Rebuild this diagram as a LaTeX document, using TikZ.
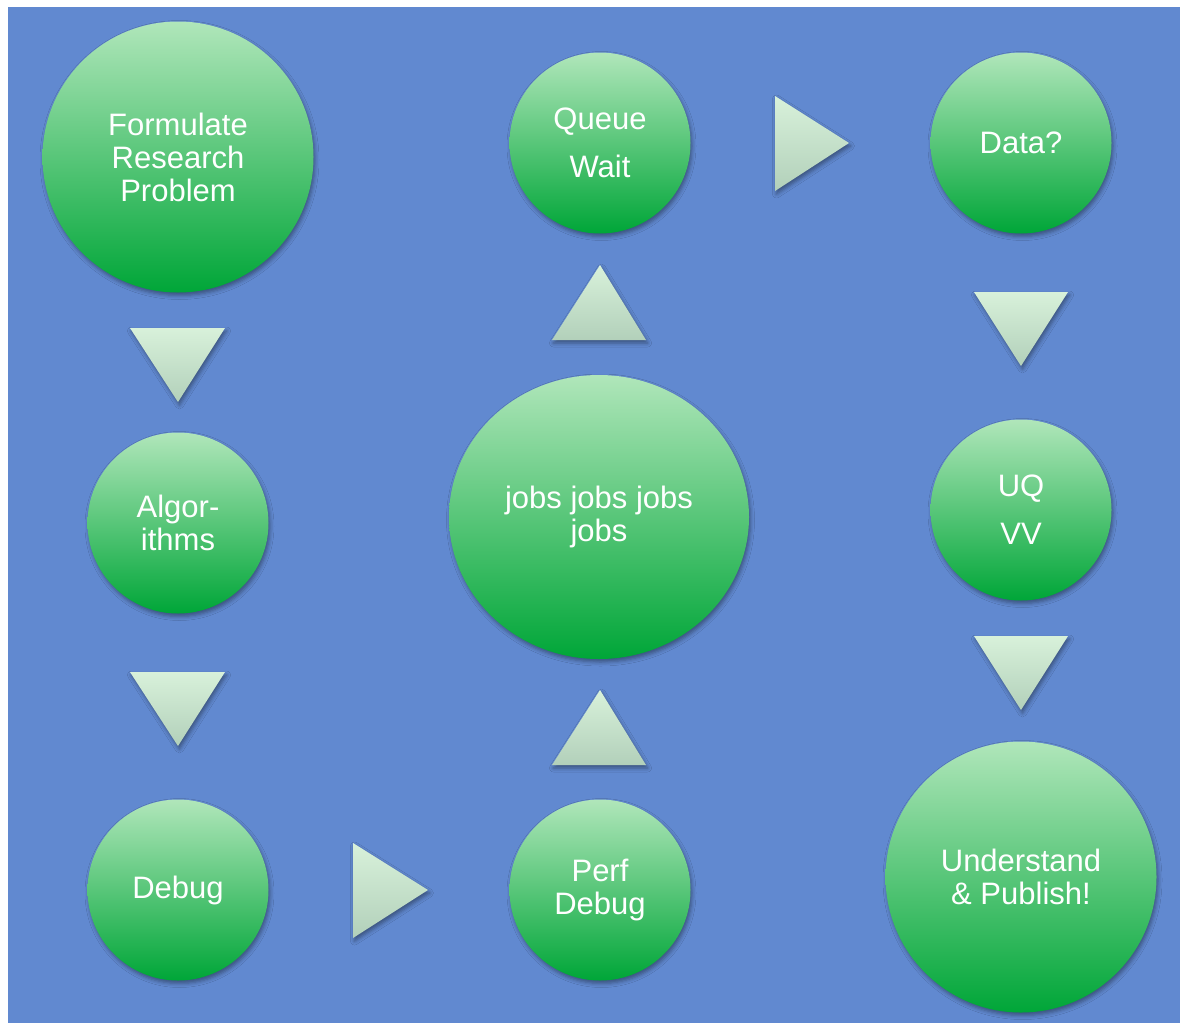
\documentclass[tikz,border=0pt]{standalone}
\usepackage{fontspec}
\setmainfont{Liberation Sans}
\usetikzlibrary{shapes.geometric,shadows.blur}
\definecolor{bg}{RGB}{97,137,208}
\definecolor{gtop}{RGB}{176,230,186}
\definecolor{gbot}{RGB}{0,166,56}
\definecolor{ttop}{RGB}{216,241,218}
\definecolor{tbot}{RGB}{178,208,186}
\tikzset{
  soft/.style={blur shadow={shadow xshift=1.5pt,shadow yshift=-3pt,shadow blur radius=4pt,shadow opacity=40}},
  bubble/.style={circle, inner sep=0pt, top color=gtop, bottom color=gbot,
    text=white, align=center, font=\fontsize{31}{33}\selectfont, soft},
  smallbub/.style={bubble, minimum size=181pt},
  bigbub/.style={bubble, minimum size=271pt},
  pointer/.style={top color=ttop, bottom color=tbot, soft}
}
\begin{document}
\begin{tikzpicture}[x=1pt,y=-1pt]
  \useasboundingbox[fill=white] (0,0) rectangle (1180,1023);
  \fill[bg] (8,7) rectangle (1180,1023);

  % stages of the workflow
  \node[bigbub]   (formulate) at (178,157) {Formulate\\Research\\Problem};
  \node[smallbub] (algo)      at (178,523) {Algor-\\ithms};
  \node[smallbub] (debug)     at (178,890) {Debug};
  \node[smallbub] (perf)      at (600,890) {Perf\\Debug};
  \node[bubble, ellipse, minimum width=300pt, minimum height=284pt]
                  (jobs)      at (599,517) {jobs jobs jobs\\jobs};
  \node[smallbub] (queue)     at (600,143) {Queue\\[15pt]Wait};
  \node[smallbub] (data)      at (1021,143) {Data?};
  \node[smallbub] (uq)        at (1021,510) {UQ\\[15pt]VV};
  \node[bigbub]   (publish)   at (1021,877) {Understand\\\& Publish!};

  % triangular pointers between stages
  \shade[pointer] (130,328) -- (225,328) -- (178,402) -- cycle;
  \shade[pointer] (130,672) -- (225,672) -- (178,746) -- cycle;
  \shade[pointer] (353,843) -- (428,890) -- (353,938) -- cycle;
  \shade[pointer] (552,765) -- (600,690) -- (646,765) -- cycle;
  \shade[pointer] (552,340) -- (600,265) -- (646,340) -- cycle;
  \shade[pointer] (775,96) -- (849,143) -- (775,191) -- cycle;
  \shade[pointer] (974,292) -- (1068,292) -- (1021,366) -- cycle;
  \shade[pointer] (974,636) -- (1068,636) -- (1021,710) -- cycle;
\end{tikzpicture}
\end{document}
